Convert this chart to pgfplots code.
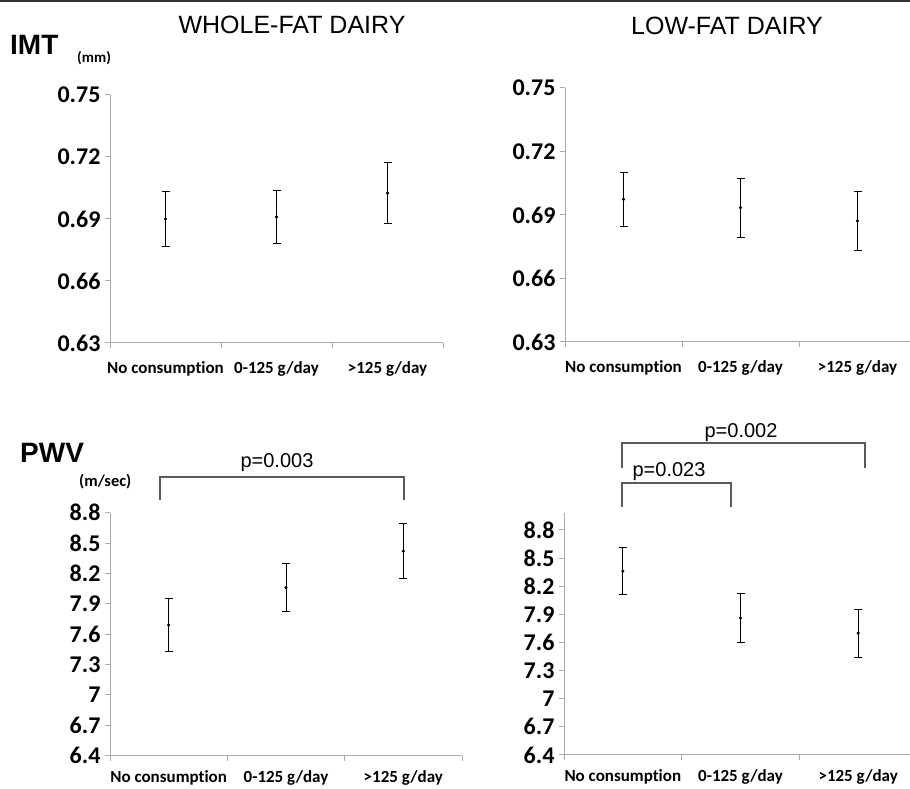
\documentclass[border=0pt]{standalone}
\usepackage{pgfplots}
\pgfplotsset{compat=1.18}
\usepackage{fontspec}
\setmainfont{Liberation Sans}
\newfontfamily\calib[Ligatures=NoCommon]{Carlito}
\definecolor{axgray}{RGB}{170,170,170}
\definecolor{brk}{RGB}{90,90,90}
\pgfplotsset{
  panel/.style={
    scale only axis, anchor=south west, clip=false,
    xmin=0.5, xmax=3.5,
    axis x line=bottom, axis y line=left,
    axis line style={-, draw=axgray, line width=1pt},
    xtick={0.5,1.5,2.5,3.5}, xticklabels={},
    tick align=outside, major tick length=5pt,
    tick style={axgray, line width=1pt},
    yticklabel style={font=\calib\bfseries\fontsize{24}{24}\selectfont, xshift=-1pt},
    extra x ticks={1,2,3},
    extra x tick labels={No consumption,0-125 g/day,>125 g/day},
    extra x tick style={major tick length=0pt, tick style={draw=none},
      xticklabel style={font=\calib\bfseries\fontsize{17}{17}\selectfont, yshift=#1}},
  },
  panel/.default={-15pt},
  ebar/.style={black, only marks, mark=*, mark size=1.4pt,
    error bars/.cd, y dir=both, y explicit,
    error bar style={line width=1pt, black},
    error mark options={black, rotate=90, line width=1pt, mark size=4pt}},
}
\begin{document}
\begin{tikzpicture}[x=1pt,y=1pt]
\useasboundingbox (0,0) rectangle (910,789);
\draw[line width=2.5pt, black!80] (0,788.5) -- (910,788.5);

% IMT whole-fat
\begin{axis}[panel, at={(110pt,446pt)}, width=333pt, height=248pt,
  ymin=0.63, ymax=0.75, ytick={0.63,0.66,0.69,0.72,0.75},
  yticklabels={0.63,0.66,0.69,0.72,0.75}]
\addplot[ebar] coordinates {(1,0.690) +- (0,0.0135) (2,0.691) +- (0,0.0128) (3,0.7025) +- (0,0.0148)};
\end{axis}

% IMT low-fat
\begin{axis}[panel, at={(565pt,447pt)}, width=351pt, height=254pt,
  ymin=0.63, ymax=0.75, ytick={0.63,0.66,0.69,0.72,0.75},
  yticklabels={0.63,0.66,0.69,0.72,0.75}]
\addplot[ebar] coordinates {(1,0.6974) +- (0,0.0129) (2,0.6935) +- (0,0.0139) (3,0.6872) +- (0,0.0141)};
\end{axis}

% PWV whole-fat
\begin{axis}[panel={-11pt}, at={(110pt,33.3pt)}, width=352pt, height=243pt,
  ymin=6.4, ymax=8.8, ytick={6.4,6.7,7,7.3,7.6,7.9,8.2,8.5,8.8},
  yticklabels={6.4,6.7,7,7.3,7.6,7.9,8.2,8.5,8.8}]
\addplot[ebar] coordinates {(1,7.69) +- (0,0.26) (2,8.06) +- (0,0.24) (3,8.42) +- (0,0.27)};
\end{axis}

% PWV low-fat
\begin{axis}[panel={-11pt}, at={(564pt,34pt)}, width=353pt, height=242pt,
  ymin=6.4, ymax=8.98, ytick={6.4,6.7,7,7.3,7.6,7.9,8.2,8.5,8.8},
  yticklabels={6.4,6.7,7,7.3,7.6,7.9,8.2,8.5,8.8}]
\addplot[ebar] coordinates {(1,8.36) +- (0,0.25) (2,7.86) +- (0,0.265) (3,7.70) +- (0,0.256)};
\end{axis}

% titles
\node[anchor=base, inner sep=0, font=\fontsize{25}{25}\selectfont] at (292,755) {WHOLE-FAT DAIRY};
\node[anchor=base, inner sep=0, font=\fontsize{25}{25}\selectfont] at (727,754) {LOW-FAT DAIRY};
\node[anchor=base west, inner sep=0, font=\bfseries\fontsize{28}{28}\selectfont] at (10,734) {IMT};
\node[anchor=west, inner sep=0, font=\calib\bfseries\fontsize{15}{15}\selectfont] at (77,731) {(mm)};
\node[anchor=base west, inner sep=0, font=\bfseries\fontsize{28}{28}\selectfont] at (20,326) {PWV};
\node[anchor=west, inner sep=0, font=\calib\bfseries\fontsize{16.5}{16.5}\selectfont] at (79,307) {(m/sec)};

% significance brackets
\node[anchor=base, inner sep=0, font=\fontsize{20}{20}\selectfont] at (277,321) {p=0.003};
\draw[brk, line width=1.2pt] (160,289) -- (160,312) -- (404,312) -- (404,289);
\node[anchor=base, inner sep=0, font=\fontsize{20}{20}\selectfont] at (741,351) {p=0.002};
\draw[brk, line width=1.2pt] (622,321) -- (622,346) -- (865,346) -- (865,321);
\node[anchor=base, inner sep=0, font=\fontsize{20}{20}\selectfont] at (669,312) {p=0.023};
\draw[brk, line width=1.2pt] (622,282) -- (622,306) -- (731,306) -- (731,282);
\end{tikzpicture}
\end{document}
